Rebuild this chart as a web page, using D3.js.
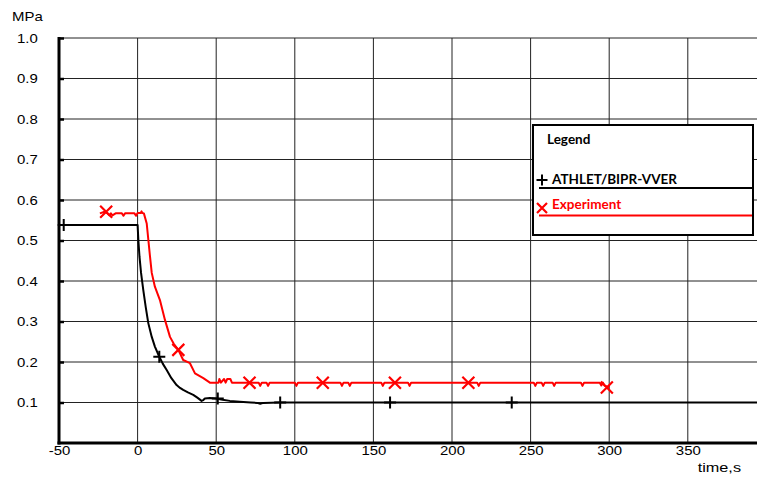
<!DOCTYPE html>
<html>
<head>
<meta charset="utf-8">
<script src="https://cdn.jsdelivr.net/npm/d3@7"></script>
<style>
  html, body { margin: 0; padding: 0; background: #fff; }
  svg { display: block; }
  .tick-label { font-family: "Liberation Sans", Arial, sans-serif; font-size: 13px; fill: #000; }
  .legend-text { font-family: Lato, "Liberation Sans", sans-serif; font-weight: 700; font-size: 13.5px; }
</style>
</head>
<body>
<svg id="chart" width="757" height="477"></svg>
<script>
// Pressure vs time: calculation (ATHLET/BIPR-VVER) and experiment
const xTicks = [-50, 0, 50, 100, 150, 200, 250, 300, 350];
const yTicks = [0.1, 0.2, 0.3, 0.4, 0.5, 0.6, 0.7, 0.8, 0.9, 1.0];
const yTickLabels = ["0.1", "0.2", "0.3", "0.4", "0.5", "0.6", "0.7", "0.8", "0.9", "1.0"];

const seriesNames = ["ATHLET/BIPR-VVER", "Experiment"];

// ATHLET/BIPR-VVER calculation
const athletTime = [-50, 0, 0.5, 1.2, 2.2, 3.6, 5.2, 6.8, 9, 11, 13.8, 16, 18.5, 21.5, 24.8, 27, 29, 32, 35.4, 38, 40.7, 41.8, 42.8, 46, 50, 54, 58.7, 65, 72, 76, 78, 80, 90, 400];
const athletValue = [0.538, 0.538, 0.50, 0.46, 0.42, 0.378, 0.335, 0.296, 0.262, 0.238, 0.213, 0.196, 0.18, 0.16, 0.143, 0.136, 0.131, 0.125, 0.119, 0.112, 0.104, 0.106, 0.11, 0.111, 0.11, 0.107, 0.104, 0.102, 0.100, 0.099, 0.097, 0.099, 0.1, 0.1];
const athletMarkTime = [-47, 13.8, 51, 90.7, 160.6, 238];
const athletMarkValue = [0.538, 0.213, 0.11, 0.1, 0.1, 0.1];

// Experiment
const expTime = [-24, -21, -19, -18, -17, -16, -14, -10, -9, -8, -7, -2, -1, 0, 2, 2.5, 3, 4, 5.8, 7.9, 9, 11, 14.2, 17.4, 20.6, 23, 25.9, 29, 33.3, 36.5, 41.8, 46, 50, 51.5, 52, 53, 55, 56, 57, 59, 60, 77, 78, 79, 82, 83, 84, 100, 101, 102, 129, 130, 131, 134, 135, 136, 155, 156, 157, 172, 173, 174, 216, 217, 218, 252, 253, 254, 257, 258, 259, 264, 265, 266, 282, 283, 284, 294, 295, 296, 297, 298, 300];
const expValue = [0.567, 0.571, 0.566, 0.562, 0.567, 0.562, 0.567, 0.567, 0.561, 0.567, 0.567, 0.567, 0.561, 0.568, 0.568, 0.572, 0.568, 0.567, 0.542, 0.46, 0.42, 0.386, 0.353, 0.304, 0.262, 0.245, 0.23, 0.205, 0.197, 0.172, 0.16, 0.149, 0.149, 0.149, 0.158, 0.149, 0.158, 0.149, 0.158, 0.158, 0.149, 0.149, 0.141, 0.149, 0.149, 0.141, 0.149, 0.149, 0.141, 0.149, 0.149, 0.141, 0.149, 0.149, 0.141, 0.149, 0.149, 0.141, 0.149, 0.149, 0.141, 0.149, 0.149, 0.141, 0.149, 0.149, 0.141, 0.149, 0.149, 0.141, 0.149, 0.149, 0.141, 0.149, 0.149, 0.141, 0.149, 0.149, 0.142, 0.149, 0.142, 0.14, 0.138];
const expMarkTime = [-20, 25.9, 71.2, 117.8, 163.7, 210.4, 298.5];
const expMarkValue = [0.571, 0.23, 0.149, 0.149, 0.149, 0.149, 0.137];

const svg = d3.select("#chart");
const W = 757;
const plotLeft = 59, plotTop = 38, plotBottom = 443;
const textStretch = "scale(1.15,1)";   // axis text is set slightly wide

const x = d3.scaleLinear().domain([-50, 400]).range([plotLeft, plotLeft + 9 * 78.6]);
const y = d3.scaleLinear().domain([0, 1]).range([plotBottom, plotTop]);

// Grid
const grid = svg.append("g").attr("stroke", "#222").attr("stroke-width", 1);
grid.selectAll("line.v").data(xTicks.slice(1)).join("line")
  .attr("x1", d => x(d)).attr("x2", d => x(d))
  .attr("y1", plotTop).attr("y2", plotBottom);
grid.selectAll("line.h").data(yTicks).join("line")
  .attr("x1", plotLeft).attr("x2", W)
  .attr("y1", d => y(d)).attr("y2", d => y(d));

// Axes
const yAxis = d3.axisLeft(y).tickValues(yTicks)
  .tickFormat((d, i) => yTickLabels[i]).tickSize(-5).tickPadding(18.5);
const gy = svg.append("g").attr("transform", `translate(${plotLeft},0)`).call(yAxis);
gy.attr("font-family", null).attr("font-size", null);
gy.select(".domain").remove();
gy.selectAll(".tick line").attr("stroke", "#000").attr("stroke-width", 2.5);
gy.selectAll(".tick text").attr("class", "tick-label").attr("text-anchor", "end")
  .attr("transform", textStretch);

const xAxis = d3.axisBottom(x).tickValues(xTicks).tickFormat(d => String(d))
  .tickSize(0).tickPadding(3);
const gx = svg.append("g").attr("transform", `translate(0,${plotBottom})`).call(xAxis);
gx.attr("font-family", null).attr("font-size", null);
gx.select(".domain").remove();
gx.selectAll(".tick text").attr("class", "tick-label").attr("transform", textStretch);

svg.append("line").attr("x1", plotLeft).attr("x2", plotLeft).attr("y1", plotTop - 1).attr("y2", plotBottom + 1.5)
  .attr("stroke", "#000").attr("stroke-width", 3);
svg.append("line").attr("x1", plotLeft - 1.5).attr("x2", W).attr("y1", plotBottom).attr("y2", plotBottom)
  .attr("stroke", "#000").attr("stroke-width", 3);

// Axis titles
svg.append("text").attr("class", "tick-label")
  .attr("transform", `translate(12,21) ${textStretch}`).text("MPa");
svg.append("text").attr("class", "tick-label").attr("text-anchor", "end")
  .attr("transform", `translate(741,472) scale(1.25,1)`).text("time,s");

// Curves
const line = d3.line().x(d => x(d[0])).y(d => y(d[1]));
const athlet = athletTime.map((t, i) => [t, athletValue[i]]);
const exper = expTime.map((t, i) => [t, expValue[i]]);

svg.append("path").datum(athlet).attr("d", line)
  .attr("fill", "none").attr("stroke", "#000").attr("stroke-width", 2).attr("stroke-linejoin", "round");
svg.append("path").datum(exper).attr("d", line)
  .attr("fill", "none").attr("stroke", "#f00").attr("stroke-width", 2).attr("stroke-linejoin", "round");

// Markers
function plus(g, cx, cy, s, color) {
  g.append("path").attr("d", `M${cx - s},${cy}H${cx + s}M${cx},${cy - s}V${cy + s}`)
    .attr("stroke", color).attr("stroke-width", 2).attr("fill", "none");
}
function cross(g, cx, cy, s, color) {
  g.append("path").attr("d", `M${cx - s},${cy - s}L${cx + s},${cy + s}M${cx - s},${cy + s}L${cx + s},${cy - s}`)
    .attr("stroke", color).attr("stroke-width", 2.2).attr("fill", "none");
}
const marks = svg.append("g");
athletMarkTime.forEach((t, i) => plus(marks, x(t), y(athletMarkValue[i]), 6, "#000"));
expMarkTime.forEach((t, i) => cross(marks, x(t), y(expMarkValue[i]), 6, "#f00"));

// Legend
const lg = svg.append("g");
lg.append("rect").attr("x", 533).attr("y", 125).attr("width", 220).attr("height", 110)
  .attr("fill", "#fff").attr("stroke", "#000").attr("stroke-width", 2);
lg.append("text").attr("class", "legend-text").attr("x", 547).attr("y", 144).attr("fill", "#000").text("Legend");
plus(lg, 542, 180, 5.5, "#000");
lg.append("text").attr("class", "legend-text").attr("x", 552).attr("y", 184).attr("fill", "#000").text(seriesNames[0]);
lg.append("line").attr("x1", 539).attr("x2", 752).attr("y1", 188).attr("y2", 188)
  .attr("stroke", "#000").attr("stroke-width", 2);
cross(lg, 542, 208, 5, "#f00");
lg.append("text").attr("class", "legend-text").attr("x", 552).attr("y", 209).attr("fill", "#f00").text(seriesNames[1]);
lg.append("line").attr("x1", 539).attr("x2", 752).attr("y1", 215.5).attr("y2", 215.5)
  .attr("stroke", "#f00").attr("stroke-width", 2);
</script>
</body>
</html>
